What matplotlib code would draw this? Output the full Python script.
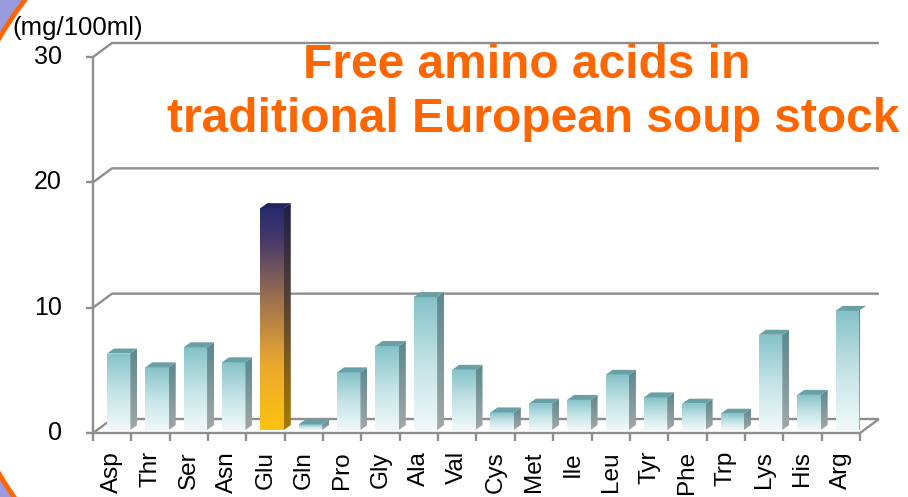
import numpy as np
import matplotlib
matplotlib.use("Agg")
import matplotlib.pyplot as plt
from matplotlib.colors import LinearSegmentedColormap
from matplotlib.patches import Polygon, Rectangle, Circle
from matplotlib.transforms import offset_copy

# data (mg/100ml)
categories = ["Asp", "Thr", "Ser", "Asn", "Glu", "Gln", "Pro", "Gly", "Ala", "Val",
              "Cys", "Met", "Ile", "Leu", "Tyr", "Phe", "Trp", "Lys", "His", "Arg"]
values = [6.1, 5.0, 6.6, 5.4, 17.7, 0.45, 4.6, 6.7, 10.6, 4.8,
          1.4, 2.1, 2.4, 4.4, 2.6, 2.1, 1.3, 7.6, 2.8, 9.5]
highlight = "Glu"
y_ticks = [0, 10, 20, 30]
unit_label = "(mg/100ml)"
title_lines = ["Free amino acids in", "traditional European soup stock"]

plt.rcParams["font.family"] = ["Liberation Sans", "DejaVu Sans"]

W, H = 908, 497
fig = plt.figure(figsize=(W / 100, H / 100), dpi=100)

# slide decoration on the left edge
bg = fig.add_axes([0, 0, 1, 1], zorder=0)
bg.set_xlim(0, W)
bg.set_ylim(H, 0)
bg.axis("off")
strip = Rectangle((0, 0), 40, H, transform=bg.transData)
lav = Rectangle((0, 0), 40, H, facecolor="#9a9ade", edgecolor="none")
bg.add_patch(lav)
ring = Circle((364, 256), 425, facecolor="white", edgecolor="#ff6600", lw=3.5)
bg.add_patch(ring)
lav.set_clip_path(strip)
ring.set_clip_path(strip)

n = len(categories)
ax = fig.add_axes([93 / W, 64 / H, 767 / W, 376 / H], zorder=1)
ax.set_xlim(0, n)
ax.set_ylim(0, 30)
ax.axis("off")

# pixel -> data unit conversion
p0 = ax.transData.transform((0, 0))
p1 = ax.transData.transform((1, 1))
sx, sy = p1 - p0


def off(px, py):
    return px / sx, py / sy


wx, wy = off(19, 14)   # depth of back wall
fx, fy = off(6.5, 3)   # bar front offset from front plane
dx, dy = off(7, 5)     # bar depth
bw = 0.61

line_kw = dict(color="#8e8e8e", lw=1.7, solid_capstyle="butt", clip_on=False)

# back wall gridlines and floor
for t in y_ticks:
    ax.plot([0, wx, n + wx], [t, t + wy, t + wy], zorder=1, **line_kw)
    ax.plot([-7 / sx, 0], [t, t], zorder=1, **line_kw)
    ax.text(-31 / sx, t, str(t), ha="right", va="center", fontsize=18)
ax.plot([n, n + wx], [0, wy], zorder=1, **line_kw)
ax.plot([0, 0], [0, y_ticks[-1]], zorder=1, **line_kw)
ax.plot([0, n], [0, 0], zorder=5, **line_kw)
for i in range(n + 1):
    ax.plot([i, i], [0, -8 / sy], zorder=5, **line_kw)

teal_front = LinearSegmentedColormap.from_list(
    "tf", [(0, "#f0f9fa"), (0.5, "#c4e3e6"), (1, "#84c2c8")])
teal_side = LinearSegmentedColormap.from_list(
    "ts", [(0, "#a2a8a8"), (1, "#5b888c")])
glu_front = LinearSegmentedColormap.from_list(
    "gf", [(0, "#ffc20e"), (0.3, "#eaa830"), (0.6, "#9a7050"),
           (0.85, "#4a3a6a"), (1, "#262a6e")])
glu_side = LinearSegmentedColormap.from_list(
    "gs", [(0, "#a87c00"), (0.5, "#604830"), (1, "#1e1e48")])

grad = np.linspace(0, 1, 256).reshape(-1, 1)

for i, (name, v) in enumerate(zip(categories, values)):
    if name == highlight:
        fc, sc, tc = glu_front, glu_side, "#22225e"
    else:
        fc, sc, tc = teal_front, teal_side, "#69a0a5"
    x0 = i + 0.5 - bw / 2 + fx
    x1 = x0 + bw
    y0 = fy
    y1 = fy + v

    # front face
    im = ax.imshow(grad, extent=(x0, x1, y0, y1), origin="lower",
                   aspect="auto", cmap=fc, interpolation="bilinear", zorder=3)
    im.set_clip_box(None)
    im.set_clip_path(Rectangle((x0, y0), bw, v, transform=ax.transData))

    # side face
    side = Polygon([(x1, y0), (x1 + dx, y0 + dy), (x1 + dx, y1 + dy), (x1, y1)],
                   closed=True, transform=ax.transData)
    im2 = ax.imshow(grad, extent=(x1, x1 + dx, y0, y1 + dy), origin="lower",
                    aspect="auto", cmap=sc, interpolation="bilinear", zorder=3)
    im2.set_clip_box(None)
    im2.set_clip_path(side)

    # top face
    ax.add_patch(Polygon([(x0, y1), (x1, y1), (x1 + dx, y1 + dy), (x0 + dx, y1 + dy)],
                         closed=True, facecolor=tc, edgecolor="none", zorder=3,
                         clip_on=False))

    ax.text(i + 0.5, 0, name, rotation=90, ha="center", va="top", fontsize=17.5,
            transform=offset_copy(ax.transData, fig=fig, y=-18, units="dots"))

ax.set_xlim(0, n)
ax.set_ylim(0, 30)

fig.text(12 / W, 1 - 28 / H, unit_label, ha="left", va="center", fontsize=18.5)
fig.text(527 / W, 1 - 78 / H, title_lines[0], ha="center", va="baseline",
         fontsize=34.5, fontweight="bold", color="#ff6600")
fig.text(533 / W, 1 - 132 / H, title_lines[1], ha="center", va="baseline",
         fontsize=34.5, fontweight="bold", color="#ff6600")

fig.savefig("out.png", dpi=100)
